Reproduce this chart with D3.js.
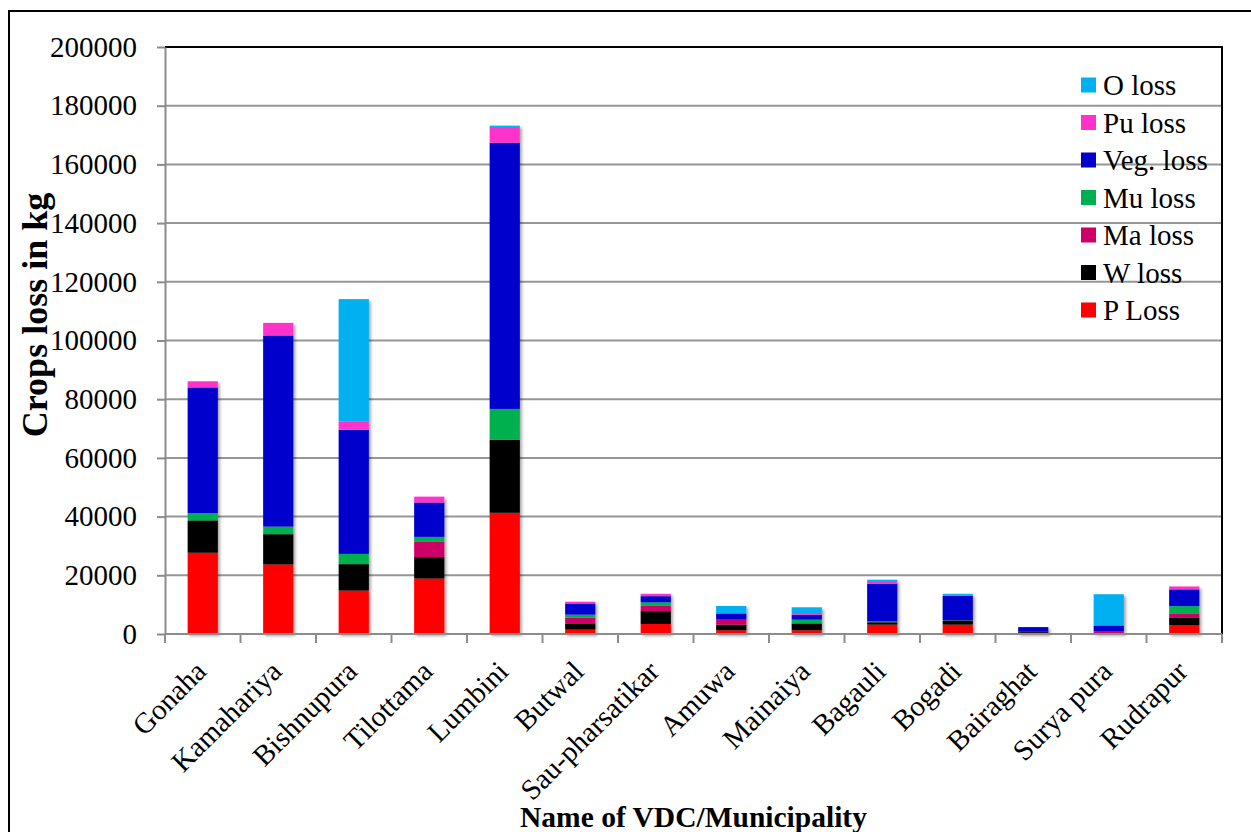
<!DOCTYPE html>
<html>
<head>
<meta charset="utf-8">
<script src="https://cdn.jsdelivr.net/npm/d3@7"></script>
<style>
  html, body { margin: 0; padding: 0; background: #fff; }
  svg { display: block; }
  text { font-family: "Liberation Serif", "Times New Roman", serif; fill: #000; }
</style>
</head>
<body>
<svg id="chart" width="1251" height="832"></svg>
<script>
// Crop losses (kg) by VDC / municipality, stacked by crop type
const categories = ["Gonaha", "Kamahariya", "Bishnupura", "Tilottama", "Lumbini", "Butwal",
  "Sau-pharsatikar", "Amuwa", "Mainaiya", "Bagauli", "Bogadi", "Bairaghat", "Surya pura", "Rudrapur"];

const pLoss   = [27700, 23700, 14800, 18900, 41300, 1500, 3400, 1250, 1250, 3200, 3200, 350, 300, 2950];
const wLoss   = [11000, 10300,  9000,  7300, 24900, 2100, 4400, 1950, 2350,  800, 1400, 300,   0, 2700];
const maLoss  = [    0,     0,     0,  5200,     0, 2000, 1800, 1700,    0,    0,    0, 100, 550, 1350];
const muLoss  = [ 2500,  2600,  3500,  1700, 10500, 1000, 1200,    0, 1300,  300,  100,   0,   0, 2500];
const vegLoss = [42800, 65100, 42300, 11700, 90700, 3800, 2100, 2100, 1600, 12850, 8300, 1600, 2050, 5700];
const puLoss  = [ 2100,  4300,  2800,  2000,  5000,  600,  800,  150,  300,  900,  300,   0, 100, 1000];
const oLoss   = [    0,     0, 41700,     0,   800,    0,    0, 2400, 2300,  450,  400,   0, 10550,  0];

const seriesNames = ["P Loss", "W loss", "Ma loss", "Mu loss", "Veg. loss", "Pu loss", "O loss"];
const seriesValues = [pLoss, wLoss, maLoss, muLoss, vegLoss, puLoss, oLoss];
const seriesColors = ["#ff0000", "#000000", "#cc0066", "#00b050", "#0000cc", "#ff33cc", "#00b0f0"];

const yTicks = [0, 20000, 40000, 60000, 80000, 100000, 120000, 140000, 160000, 180000, 200000];

const rows = categories.map((c, i) => {
  const r = { name: c };
  seriesNames.forEach((s, k) => { r[s] = seriesValues[k][i]; });
  return r;
});

const svg = d3.select("#chart");
const plot = { left: 165, top: 47, right: 1222, bottom: 634 };
const serif = "'Liberation Serif', 'Times New Roman', serif";

// outer frame
svg.append("rect")
  .attr("x", 9).attr("y", 11).attr("width", 1300).attr("height", 900)
  .attr("fill", "none").attr("stroke", "#000").attr("stroke-width", 2);

const defs = svg.append("defs");
const f = defs.append("filter").attr("id", "shadow")
  .attr("x", "-30%").attr("y", "-5%").attr("width", "160%").attr("height", "110%");
f.append("feDropShadow").attr("dx", 2).attr("dy", 2).attr("stdDeviation", 1.6)
  .attr("flood-color", "#000").attr("flood-opacity", 0.35);

const x = d3.scaleBand().domain(categories)
  .range([plot.left, plot.right]).paddingInner(0.6).paddingOuter(0.3);
const y = d3.scaleLinear().domain([0, 200000]).range([plot.bottom, plot.top]);

// horizontal gridlines
svg.append("g").selectAll("line").data(yTicks.slice(1)).join("line")
  .attr("x1", plot.left).attr("x2", plot.right)
  .attr("y1", d => y(d)).attr("y2", d => y(d))
  .attr("stroke", "#969696").attr("stroke-width", 2);

// plot area top/right border
svg.append("path")
  .attr("d", `M${plot.left},${plot.top}H${plot.right}V${plot.bottom}`)
  .attr("fill", "none").attr("stroke", "#000").attr("stroke-width", 2);

// stacked bars
const stack = d3.stack().keys(seriesNames)(rows);
svg.append("g").attr("filter", "url(#shadow)")
  .selectAll("g").data(stack).join("g")
  .attr("fill", (d, i) => seriesColors[i])
  .selectAll("rect").data(d => d).join("rect")
  .attr("x", d => x(d.data.name))
  .attr("width", x.bandwidth())
  .attr("y", d => y(d[1]))
  .attr("height", d => y(d[0]) - y(d[1]));

// y axis
const yAxis = svg.append("g").attr("transform", `translate(${plot.left},0)`)
  .call(d3.axisLeft(y).tickValues(yTicks).tickFormat(d3.format("d")).tickSize(8).tickPadding(20).tickSizeOuter(0));
yAxis.select(".domain").attr("stroke", "#8c8c8c").attr("stroke-width", 2);
yAxis.selectAll(".tick line").attr("stroke", "#8c8c8c").attr("stroke-width", 2);
yAxis.selectAll(".tick text").style("font-size", "29px")
  .style("font-family", serif).attr("fill", "#000");

// x axis: ticks at category boundaries
const boundaries = d3.range(categories.length + 1).map(i => plot.left + i * (plot.right - plot.left) / categories.length);
svg.append("line").attr("x1", plot.left).attr("x2", plot.right)
  .attr("y1", plot.bottom).attr("y2", plot.bottom)
  .attr("stroke", "#8c8c8c").attr("stroke-width", 2);
svg.append("g").selectAll("line").data(boundaries).join("line")
  .attr("x1", d => d).attr("x2", d => d)
  .attr("y1", plot.bottom).attr("y2", plot.bottom + 9)
  .attr("stroke", "#8c8c8c").attr("stroke-width", 2);

// rotated category labels
svg.append("g").selectAll("text").data(categories).join("text")
  .attr("transform", d => `translate(${x(d) + x.bandwidth() / 2 - 2},${plot.bottom + 32}) rotate(-45)`)
  .attr("text-anchor", "end")
  .attr("dy", "0.35em")
  .style("font-size", "29px")
  .text(d => d);

// axis titles
svg.append("text")
  .attr("transform", `translate(47,315) rotate(-90)`)
  .attr("text-anchor", "middle")
  .style("font-size", "36px").style("font-weight", "bold")
  .text("Crops loss in kg");

svg.append("text")
  .attr("x", (plot.left + plot.right) / 2).attr("y", 827)
  .attr("text-anchor", "middle")
  .style("font-size", "29.5px").style("font-weight", "bold")
  .text("Name of VDC/Municipality");

// legend, top entry is the last stacked series
const legendOrder = d3.range(seriesNames.length).reverse();
const legend = svg.append("g").selectAll("g").data(legendOrder).join("g")
  .attr("transform", (d, i) => `translate(1081,${85 + i * 37.5})`);
legend.append("rect").attr("x", 0).attr("y", -7.5).attr("width", 15).attr("height", 15)
  .attr("fill", d => seriesColors[d]);
legend.append("text").attr("x", 22).attr("dy", "0.35em")
  .style("font-size", "29px")
  .text(d => seriesNames[d]);
</script>
</body>
</html>
